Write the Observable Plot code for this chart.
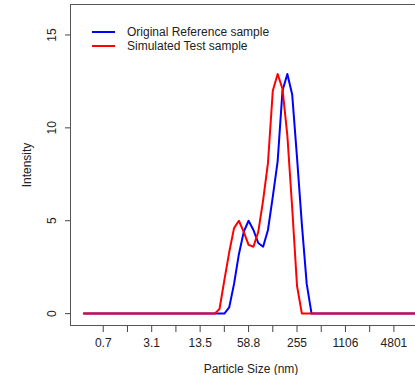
<!DOCTYPE html>
<html><head><meta charset="utf-8">
<script src="https://cdn.jsdelivr.net/npm/d3@7"></script>
<script src="https://cdn.jsdelivr.net/npm/@observablehq/plot@0.6"></script>
<style>
html,body{margin:0;padding:0;background:#fff;overflow:hidden}
#wrap{position:relative;width:415px;height:375px}
.legend{position:absolute;left:92px;top:25px;font:12px "Liberation Sans",Arial,sans-serif;color:#222}
.row{display:flex;align-items:center;height:14.3px}
.sw{width:23px;height:0;border-top:2px solid;margin-right:12px}
</style></head><body><div id="wrap"></div>
<script>
// Intensity per size bin (70 log-spaced bins, index 0..69)
const originalReference = [
  0,0,0,0,0,0,0,0,0,0, 0,0,0,0,0,0,0,0,0,0, 0,0,0,0,0,0,0,0,0,0,
  0.33,1.6,3.2,4.4,5.0,4.5,3.8,3.6,4.5,6.3,
  8.2,12.0,12.9,11.8,8.4,4.8,1.6,0,0,0,
  0,0,0,0,0,0,0,0,0,0, 0,0,0,0,0,0,0,0,0,0
];
const simulatedTest = [
  0,0,0,0,0,0,0,0,0,0, 0,0,0,0,0,0,0,0,0,0, 0,0,0,0,0,0,0,0,0.25,1.8,
  3.3,4.6,5.0,4.4,3.7,3.6,4.4,6.1,8.1,12.0,
  12.9,12.1,9.6,5.7,1.5,0,0,0,0,0,
  0,0,0,0,0,0,0,0,0,0, 0,0,0,0,0,0,0,0,0,0
];
const seriesNames = ["Original Reference sample", "Simulated Test sample"];
const seriesColors = ["blue", "red"];
const labelBins = [4,14,24,34,44,54,64];
const tickLabels = ["0.7","3.1","13.5","58.8","255","1106","4801"];
const minorBins = [9,19,29,39,49,59,69];
const yTicks = [0,5,10,15];

const rows = [];
[originalReference, simulatedTest].forEach((arr, s) =>
  arr.forEach((v, i) => rows.push({bin: i, value: v, series: seriesNames[s]})));
const labelRows = labelBins.map((b, k) => ({bin: b, label: tickLabels[k]}));

const font = '"Liberation Sans", Arial, sans-serif';
const chart = Plot.plot({
  width: 415, height: 375,
  marginLeft: 70, marginTop: 4, marginBottom: 50, marginRight: -16,
  style: {fontFamily: font, fontSize: "12px", color: "#222", background: "#fff"},
  x: {domain: [-2.76, 71.76]},
  y: {domain: [-0.64, 16.64]},
  color: {domain: seriesNames, range: seriesColors},
  marks: [
    Plot.axisX({ticks: [...labelBins, ...minorBins], tickSize: 7, tickFormat: () => "", label: null, stroke: "#444"}),
    Plot.axisY({ticks: yTicks, tickSize: 5, tickFormat: () => "", label: null, stroke: "#444"}),
    Plot.text(labelRows, {x: "bin", text: "label", frameAnchor: "bottom", dy: 18, lineAnchor: "middle", fill: "#222"}),
    Plot.text(yTicks, {y: d => d, text: d => String(d), frameAnchor: "left", dx: -18, rotate: -90, lineAnchor: "middle", textAnchor: "middle", fill: "#222"}),
    Plot.text(["Particle Size (nm)"], {frameAnchor: "bottom", dy: 44, lineAnchor: "middle", fill: "#222"}),
    Plot.text(["Intensity"], {frameAnchor: "left", dx: -43, rotate: -90, lineAnchor: "middle", textAnchor: "middle", fill: "#222"}),
    Plot.line(rows, {x: "bin", y: "value", z: "series", stroke: "series", strokeWidth: 2}),
    Plot.frame({stroke: "#555"})
  ]
});
const wrap = document.getElementById("wrap");
wrap.appendChild(chart);
const leg = document.createElement("div");
leg.className = "legend";
seriesNames.forEach((n, i) => {
  const r = document.createElement("div"); r.className = "row";
  const sw = document.createElement("span"); sw.className = "sw"; sw.style.borderColor = seriesColors[i];
  const t = document.createElement("span"); t.textContent = n;
  r.appendChild(sw); r.appendChild(t); leg.appendChild(r);
});
wrap.appendChild(leg);
</script></body></html>
